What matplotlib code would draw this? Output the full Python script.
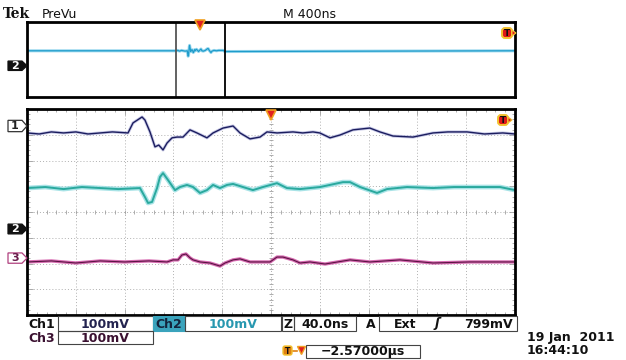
import matplotlib.pyplot as plt
import matplotlib.patches as mpatches
import matplotlib.transforms as mtransforms
from matplotlib.ticker import MultipleLocator

# zoomed view: 10 div x 40 ns, 8 div x 100 mV
NS_PER_DIV = 40
MV_PER_DIV = 100
RECORD_NS = 4000          # M 400ns x 10 div
PREVIEW_START_NS = 1221   # left edge of the zoom window inside the record
TRIGGER_NS = 200

# traces: time (ns) and mV away from each trace's level
CH1_T = [0, 10, 20, 30, 40, 50, 60, 70, 82.8, 86.9, 94.3, 96.7, 100.8,
         104.9, 108, 111.5, 114.8, 118.9, 123, 127.9, 133.6, 139.3, 147.5,
         152.5, 160.7, 168.9, 174.6, 182.8, 191, 196.7, 205, 218, 226,
         234.4, 240, 248.4, 256.6, 267.2, 281, 289.3, 300, 316.4, 332.8,
         345, 360.7, 375, 390, 400]
CH1_MV = [0, -4, 4, 0, 4, -4, 0, 4, 0, 39, 62, 50, 4,
          -54, -47, -66, -39, -19, -16, -16, 12, 0, -19,
          0, 19, 27, 0, -23, -16, 4, 0, 4, 0,
          4, 0, -19, -8, 12, 19, 4, -12, -16, 0,
          4, 4, -4, 0, -4]

CH2_T = [0, 15, 30, 45, 60, 75, 92.6, 96.7, 99.2, 102.5, 106.6, 109, 111.5,
         115.6, 121.3, 125.4, 131.1, 136.1, 141.8, 147.5, 152.5, 158.2,
         163.9, 168.9, 177, 185.2, 193.4, 204.9, 213, 223.8, 240.2, 259,
         264.8, 273, 286.9, 295.1, 311.5, 332.8, 350, 365.6, 387.7, 400]
CH2_MV = [0, 4, -4, 4, 0, -4, 0, -35, -58, -54, 0, 43, 58,
          31, -8, 4, 12, 4, -19, -8, 12, 0,
          12, 16, 4, -8, 4, 19, 0, -4, 4, 23,
          23, 4, -19, -4, 4, 0, 4, 4, 4, -8]

CH3_T = [0, 20, 40, 60, 80, 100, 114.8, 119.7, 123.8, 127, 130.3, 133.6,
         136.1, 141.8, 150, 158.2, 162.3, 168.9, 174.6, 182.8, 199.2, 204.9,
         209.8, 218, 223.8, 232, 244.3, 264.8, 281.1, 305.7, 332.8, 363, 400]
CH3_MV = [0, 4, -4, 4, 0, 4, 0, 8, 8, 27, 31, 16,
          8, 0, -4, -16, -4, 8, 12, 0, 0, 19,
          19, 8, -4, 0, -8, 8, 0, 8, -4, 0, 0]

# screen level of each trace and of its ground marker, in divisions
CH_LEVEL_DIV = {1: 3.07, 2: 0.93, 3: -1.94}
GND_MARK_DIV = {1: 3.34, 2: -0.66, 3: -1.79}

READOUT_CH = ["Ch1", "Ch2", "Ch3"]
READOUT_VOLTS = ["100mV", "100mV", "100mV"]
ZOOM_TEXT = "40.0ns"
TRIG_TEXT = ["Ext", "799mV"]
TRIG_POS_TEXT = "\u22122.57000\u00b5s"
DATE_TEXT = ["19 Jan  2011", "16:44:10"]

W, H = 626, 360
fig = plt.figure(figsize=(W / 100, H / 100), dpi=100)


def px_axes(x0, y0, x1, y1):
    return fig.add_axes([x0 / W, 1 - y1 / H, (x1 - x0) / W, (y1 - y0) / H])


top = px_axes(27, 22, 515, 97)
main = px_axes(27, 109, 515, 315)

# overlay in screen pixels for readouts and icons, drawn above the panels
ov = px_axes(0, 0, W, H)
ov.set_xlim(0, W)
ov.set_ylim(H, 0)
ov.axis("off")
ov.set_zorder(10)

for ax in (top, main):
    for s in ax.spines.values():
        s.set_linewidth(2.0)
        s.set_color("black")
    ax.set_ylim(-4, 4)

# ── main zoomed screen ──────────────────────────────────────────────────────
main.set_xlim(0, 10 * NS_PER_DIV)
main.xaxis.set_major_locator(MultipleLocator(NS_PER_DIV))
main.yaxis.set_major_locator(MultipleLocator(1))
main.xaxis.set_minor_locator(MultipleLocator(NS_PER_DIV / 5))
main.yaxis.set_minor_locator(MultipleLocator(0.2))
main.grid(True, which="major", color="#b0b0b0", linewidth=0.7,
          linestyle=(0, (1, 2.2)))
main.tick_params(which="both", direction="in", colors="#a0a0a0",
                 labelbottom=False, labelleft=False,
                 top=True, right=True)
main.tick_params(which="major", length=4, width=0.6)
main.tick_params(which="minor", length=2.5, width=0.6)
main.set_axisbelow(True)

# centre crosshair ticks
cx = [i * NS_PER_DIV / 5 for i in range(51)]
main.plot(cx, [0] * len(cx), ls="none", marker="|", ms=3.5, mew=0.6,
          color="#a0a0a0")
cy = [-4 + i * 0.2 for i in range(41)]
main.plot([5 * NS_PER_DIV] * len(cy), cy, ls="none", marker="_", ms=3.5,
          mew=0.6, color="#a0a0a0")


def trace_y(ch, mv):
    return [CH_LEVEL_DIV[ch] + v / MV_PER_DIV for v in mv]


main.plot(CH1_T, trace_y(1, CH1_MV), color="#b9bbe0", lw=2.2, alpha=0.8)
main.plot(CH1_T, trace_y(1, CH1_MV), color="#1b1d5e", lw=1.0)
main.plot(CH2_T, trace_y(2, CH2_MV), color="#9fe0e4", lw=3.4, alpha=0.9)
main.plot(CH2_T, trace_y(2, CH2_MV), color="#2aa99e", lw=1.4)
main.plot(CH3_T, trace_y(3, CH3_MV), color="#d25aa8", lw=2.4, alpha=0.9)
main.plot(CH3_T, trace_y(3, CH3_MV), color="#5c1444", lw=0.8)

main.plot(TRIGGER_NS, 3.78, marker="v", ms=7, color="#e02020", mec="#f0a020",
          mew=1.2, clip_on=False, zorder=5)

# ── preview (whole record) ─────────────────────────────────────────────────
top.set_xlim(0, RECORD_NS)
top.set_xticks([])
top.set_yticks([])
pre_t = [0] + [PREVIEW_START_NS + t for t in CH2_T] + [RECORD_NS]
pre_v = trace_y(2, [0] + CH2_MV + [0])
top.plot(pre_t, pre_v, color="#9ad8ee", lw=2.2)
top.plot(pre_t, pre_v, color="#1f9ccb", lw=0.9)
top.axvline(PREVIEW_START_NS, color="#555555", lw=1.3)
top.axvline(PREVIEW_START_NS + 10 * NS_PER_DIV, color="black", lw=1.3)
top.plot(PREVIEW_START_NS + TRIGGER_NS, 3.7, marker="v", ms=7,
         color="#e02020", mec="#f0a020", mew=1.2, clip_on=False, zorder=5)


# ── channel ground markers ─────────────────────────────────────────────────
def ch_marker(ax, y, label, face, edge, tcol, h, ls="-"):
    tr = mtransforms.blended_transform_factory(ax.transAxes, ax.transData)
    x0, x1 = -19 / 488, -5 / 488
    pts = [(x0, y - h / 2), (x1, y - h / 2), (0, y), (x1, y + h / 2),
           (x0, y + h / 2)]
    ax.add_patch(mpatches.Polygon(pts, closed=True, transform=tr,
                                  facecolor=face, edgecolor=edge, lw=0.9,
                                  ls=ls, clip_on=False, zorder=6))
    ax.text((x0 + x1) / 2, y, label, transform=tr, ha="center", va="center",
            fontsize=8, fontweight="bold", color=tcol, clip_on=False,
            zorder=7)


ch_marker(main, GND_MARK_DIV[1], "1", "white", "#333333", "#222222", 0.44)
ch_marker(main, GND_MARK_DIV[2], "2", "#111111", "#111111", "white", 0.38)
ch_marker(main, GND_MARK_DIV[3], "3", "white", "#b0407e", "#6a1a4a", 0.40)
ch_marker(top, GND_MARK_DIV[2] * 9.5 / 9.4, "2", "#111111", "#111111",
          "white", 1.0)


# ── T markers at the right edge ────────────────────────────────────────────
def t_icon(x, y):
    ov.add_patch(mpatches.FancyBboxPatch((x - 5, y - 5), 10, 10,
                                         boxstyle="round,pad=0,rounding_size=3",
                                         facecolor="#e01818",
                                         edgecolor="#f2c230", lw=1.4,
                                         zorder=8))
    ov.add_patch(mpatches.Polygon([(x + 5, y - 3), (x + 9, y), (x + 5, y + 3)],
                                  closed=True, facecolor="#e01818",
                                  edgecolor="#f2c230", lw=0.8, zorder=8))
    ov.text(x, y + 0.5, "T", ha="center", va="center", fontsize=6.5,
            fontweight="bold", color="#111111", zorder=9)


t_icon(507, 33)
t_icon(503, 120)

# ── header ─────────────────────────────────────────────────────────────────
ov.text(3, 14, "Tek", family="DejaVu Serif", fontweight="bold", fontsize=10,
        va="center", ha="left", color="#111111")
ov.text(42, 14, "PreVu", fontsize=9, va="center", ha="left", color="#111111")
ov.text(283, 14, "M 400ns", fontsize=9, va="center", ha="left",
        color="#111111")

# ── readout boxes ──────────────────────────────────────────────────────────
FS = 9


def box(x0, y0, x1, y1, face="none", edge="#444444"):
    ov.add_patch(mpatches.Rectangle((x0, y0), x1 - x0, y1 - y0,
                                    facecolor=face, edgecolor=edge, lw=0.8))


def txt(x, y, s, color="#111111", ha="center", **kw):
    ov.text(x, y, s, fontsize=FS, fontweight="bold", color=color, ha=ha,
            va="center", **kw)


txt(28, 324, READOUT_CH[0], ha="left")
box(58, 316, 153, 331)
txt(105, 324, READOUT_VOLTS[0], color="#23234f")
box(153, 316, 185, 331, face="#3aa3bc", edge="#3aa3bc")
txt(169, 324, READOUT_CH[1], color="#14243c")
box(185, 316, 281, 331)
txt(233, 324, READOUT_VOLTS[1], color="#2898b0")
box(282, 316, 294, 331)
txt(288, 324, "Z")
box(294, 316, 356, 331)
txt(325, 324, ZOOM_TEXT)
txt(371, 324, "A")
box(379, 316, 517, 331)
txt(405, 324, TRIG_TEXT[0])
txt(437, 324, "\u0283", fontstyle="italic")
txt(488, 324, TRIG_TEXT[1])

txt(28, 338, READOUT_CH[2], color="#3a1030", ha="left")
box(58, 331, 153, 344)
txt(105, 338, READOUT_VOLTS[2], color="#3a1030")

# trigger position
ov.add_patch(mpatches.FancyBboxPatch((283, 346), 9, 9,
                                     boxstyle="round,pad=0,rounding_size=2",
                                     facecolor="#e08010", edgecolor="#f2c230",
                                     lw=1, zorder=8))
ov.text(287.5, 351, "T", fontsize=5.5, fontweight="bold", ha="center",
        va="center", color="#111111", zorder=9)
ov.plot([292, 297], [351, 351], color="#e08010", lw=1.2)
ov.plot(301, 350, marker="v", ms=6, color="#e02020", mec="#f0a020", mew=1)
box(306, 345, 420, 358)
txt(363, 351.5, TRIG_POS_TEXT)

txt(527, 338, DATE_TEXT[0], ha="left")
txt(527, 351, DATE_TEXT[1], ha="left")

fig.savefig("out.png", dpi=100)
